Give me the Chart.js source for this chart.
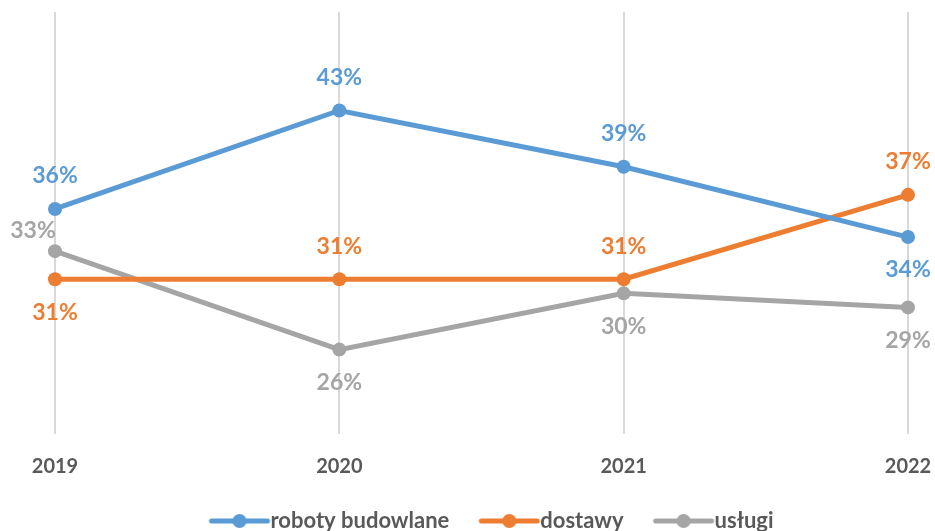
<!DOCTYPE html>
<html>
<head>
<meta charset="utf-8">
<script src="https://cdn.jsdelivr.net/npm/chart.js@4"></script>
<style>
html,body{margin:0;padding:0;background:#fff;}
#wrap{width:935px;height:531px;}
</style>
</head>
<body>
<div id="wrap"><canvas id="c" width="935" height="531"></canvas></div>
<script>
const categories = ['2019', '2020', '2021', '2022'];
const seriesNames = ['roboty budowlane', 'dostawy', 'usługi'];
const roboty = [36, 43, 39, 34];
const dostawy = [31, 31, 31, 37];
const uslugi = [33, 26, 30, 29];

const colors = ['#5b9bd5', '#ed7d31', '#a5a5a5'];
// label placement per point: 'a' above, 'b' below, 'l' left-above
const placements = [
  ['a', 'a', 'a', 'b'],
  ['b', 'a', 'a', 'a'],
  ['l', 'b', 'b', 'b']
];

function legendIcon(color) {
  const cv = document.createElement('canvas');
  cv.width = 96; cv.height = 16;
  const c = cv.getContext('2d');
  c.strokeStyle = color; c.lineWidth = 5; c.lineCap = 'round';
  c.beginPath(); c.moveTo(35, 8); c.lineTo(91, 8); c.stroke();
  c.fillStyle = color;
  c.beginPath(); c.arc(63, 8, 7, 0, Math.PI * 2); c.fill();
  return cv;
}
const icons = colors.map(legendIcon);

const labelPlugin = {
  id: 'pctLabels',
  afterDatasetsDraw(chart) {
    const ctx = chart.ctx;
    ctx.save();
    ctx.font = 'bold 23px Lato';
    ctx.textAlign = 'center';
    ctx.textBaseline = 'middle';
    chart.data.datasets.forEach((ds, di) => {
      const meta = chart.getDatasetMeta(di);
      ctx.fillStyle = colors[di];
      meta.data.forEach((pt, i) => {
        const p = placements[di][i];
        let x = pt.x, y = pt.y;
        if (p === 'a') y -= 33;
        else if (p === 'b') y += 33;
        else { x -= 22; y -= 21; }
        ctx.fillText(ds.data[i] + '%', x, y);
      });
    });
    ctx.restore();
  }
};

const seriesData = [roboty, dostawy, uslugi];

new Chart(document.getElementById('c'), {
  type: 'line',
  data: {
    labels: categories,
    datasets: seriesData.map((d, i) => ({
      label: seriesNames[i],
      data: d,
      borderColor: colors[i],
      backgroundColor: colors[i],
      borderWidth: 5,
      pointRadius: 7,
      pointHoverRadius: 7,
      pointBorderWidth: 0,
      tension: 0
    }))
  },
  options: {
    responsive: false,
    animation: false,
    layout: { padding: { left: 55, right: 0, top: 12, bottom: -11 } },
    scales: {
      x: {
        offset: false,
        grid: { color: '#d9d9d9', lineWidth: 2, drawTicks: false },
        border: { display: false },
        ticks: { color: '#595959', font: { family: 'Lato', size: 20, weight: 'bold' }, padding: 21, maxRotation: 0 },
        afterFit(scale) { scale.paddingRight = 27; }
      },
      y: {
        display: false,
        min: 20,
        max: 50
      }
    },
    plugins: {
      tooltip: { enabled: false },
      legend: {
        position: 'bottom',
        fullSize: false,
        labels: {
          usePointStyle: true,
          pointStyleWidth: 70,
          padding: 10,
          color: '#595959',
          font: { family: 'Lato', size: 22, weight: 'bold' },
          generateLabels(chart) {
            return chart.data.datasets.map((ds, i) => ({
              text: ds.label,
              pointStyle: icons[i],
              fillStyle: colors[i],
              strokeStyle: colors[i],
              lineWidth: 0,
              fontColor: '#595959',
              datasetIndex: i,
              hidden: false
            }));
          }
        }
      }
    }
  },
  plugins: [labelPlugin]
});
</script>
</body>
</html>
